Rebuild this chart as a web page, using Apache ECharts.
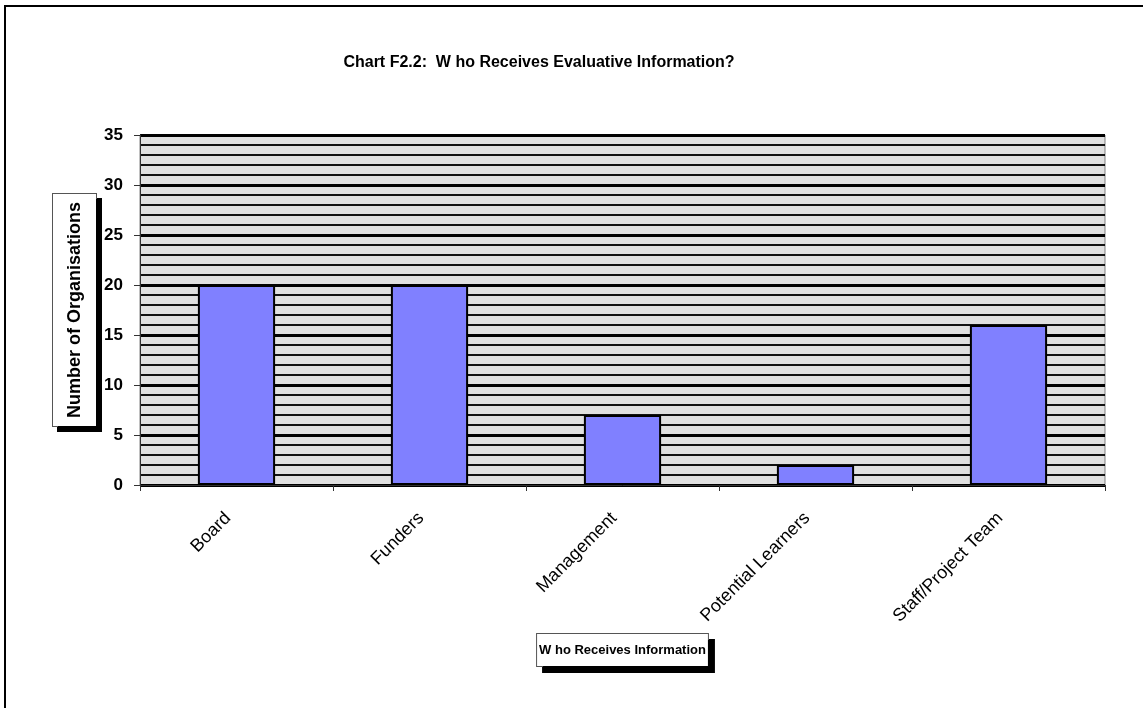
<!DOCTYPE html>
<html>
<head>
<meta charset="utf-8">
<script src="https://cdn.jsdelivr.net/npm/echarts@6/dist/echarts.min.js"></script>
<style>
html,body{margin:0;padding:0;background:#fff;}
#chart{width:1143px;height:708px;}
</style>
</head>
<body>
<div id="chart"></div>
<script>
const categories = ['Board', 'Funders', 'Management', 'Potential Learners', 'Staff/Project Team'];
const counts = [20, 20, 7, 2, 16];
const yTicks = [0, 5, 10, 15, 20, 25, 30, 35];
const titleText = 'Chart F2.2:  W ho Receives Evaluative Information?';
const xName = 'W ho Receives Information';
const yName = 'Number of Organisations';

const chart = echarts.init(document.getElementById('chart'), null, {renderer: 'canvas'});
const font = '"Liberation Sans", Arial, sans-serif';
chart.setOption({
  animation: false,
  backgroundColor: '#fff',
  textStyle: {fontFamily: font},
  title: {
    text: titleText,
    left: 534, top: 50, textAlign: 'center',
    textStyle: {fontSize: 16, fontWeight: 'bold', color: '#000', fontFamily: font}
  },
  graphic: [{
    type: 'rect', x: 0, y: 0, silent: true,
    shape: {x: 5, y: 6, width: 1300, height: 900},
    style: {fill: 'none', stroke: '#000', lineWidth: 2}
  }],
  grid: {left: 140, right: 38, top: 135, bottom: 223, show: true,
         backgroundColor: '#e0e0e0', borderColor: '#808080', borderWidth: 1},
  xAxis: {
    type: 'category', data: categories,
    name: xName, nameLocation: 'middle', nameGap: 149, nameMoveOverlap: false,
    nameTextStyle: {fontSize: 13, fontWeight: 'bold', color: '#000', fontFamily: font,
      backgroundColor: '#fff', borderColor: '#555', borderWidth: 1,
      padding: [10, 2, 9, 2],
      shadowColor: '#000', shadowOffsetX: 6, shadowOffsetY: 6, shadowBlur: 0},
    axisLine: {show: true, lineStyle: {color: '#333', width: 1}},
    axisTick: {show: true, length: 6, lineStyle: {color: '#333'}},
    axisLabel: {rotate: 45, fontSize: 18, color: '#000', margin: 22, fontFamily: font,
      padding: [0, 12, 0, 0]},
    splitLine: {show: false}
  },
  yAxis: {
    type: 'value', min: 0, max: 35, interval: 5,
    name: yName, nameLocation: 'middle', nameGap: 44, nameRotate: 90, nameMoveOverlap: false,
    nameTextStyle: {fontSize: 18, fontWeight: 'bold', color: '#000', fontFamily: font,
      backgroundColor: '#fff', borderColor: '#555', borderWidth: 1,
      padding: [13, 8, 12, 8],
      shadowColor: '#000', shadowOffsetX: 5, shadowOffsetY: 5, shadowBlur: 0},
    axisLine: {show: true, lineStyle: {color: '#333', width: 1}},
    axisTick: {show: true, length: 6, lineStyle: {color: '#333'}},
    axisLabel: {fontSize: 17, fontWeight: 'bold', color: '#000', margin: 17, fontFamily: font},
    splitLine: {show: true, lineStyle: {color: '#000', width: 3}},
    minorTick: {show: false, splitNumber: 5},
    minorSplitLine: {show: true, lineStyle: {color: '#111', width: 2}}
  },
  series: [{
    type: 'bar', data: counts, barWidth: '40%',
    itemStyle: {color: '#8080ff', borderColor: '#000', borderWidth: 2}
  }]
});
</script>
</body>
</html>
